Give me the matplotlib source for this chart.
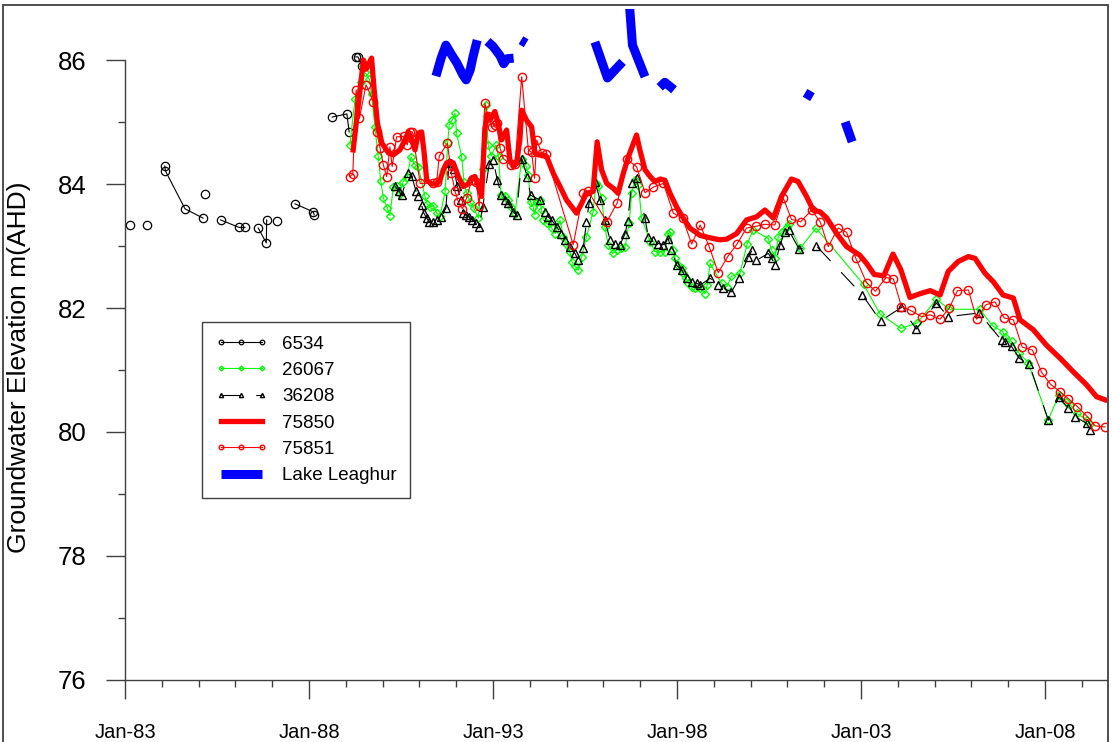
import numpy as np
import matplotlib
matplotlib.use('Agg')
import matplotlib.pyplot as plt
from matplotlib.patches import Rectangle

plt.rcParams['font.family'] = ['Liberation Sans', 'DejaVu Sans']
plt.rcParams['lines.scale_dashes'] = False

nan = np.nan

# bore 6534 (gaps in the record are nan)
yr_6534 = [1983.14, nan, 1983.60, nan, 1984.08, 1984.10, 1984.63, 1985.12, nan, 1985.17, nan,
           1985.60, 1986.10, 1986.26, nan, 1986.62, 1986.84, 1986.85, nan, 1987.13, nan,
           1987.62, 1988.12, 1988.14, nan, 1988.63, 1989.03, 1989.09, nan, 1989.27, 1989.33, 1989.45]
lv_6534 = [83.34, nan, 83.34, nan, 84.29, 84.21, 83.60, 83.45, nan, 83.84, nan,
           83.42, 83.30, 83.30, nan, 83.29, 83.05, 83.42, nan, 83.40, nan,
           83.68, 83.55, 83.50, nan, 85.08, 85.13, 84.84, nan, 86.05, 86.05, 85.90]

# bore 26067
yr_26067 = [1989.11, 1989.25, 1989.40, 1989.46, 1989.52, 1989.64, 1989.70, 1989.79, 1989.88, 1989.95,
            1990.02, 1990.13, 1990.20, 1990.29, 1990.38, 1990.47, 1990.56, 1990.67, 1990.77, 1990.88,
            1990.97, 1991.15, 1991.21, 1991.29, 1991.38, 1991.47, 1991.56, 1991.70, 1991.77, 1991.81,
            1991.89, 1991.97, 1992.01, 1992.15, 1992.21, 1992.28, 1992.38, 1992.48, 1992.60, 1992.72,
            1992.80, 1992.87, 1992.95, 1993.08, 1993.15, 1993.22, 1993.33, 1993.42, 1993.50, 1993.60,
            1993.78, 1993.90, 1993.96, 1994.02, 1994.09, 1994.14, 1994.19, 1994.28, 1994.32, 1994.37,
            1994.46, 1994.60, 1994.69, 1994.82, 1994.91, 1995.00, 1995.09, 1995.14, 1995.23, 1995.32,
            1995.41, 1995.54, 1995.72, 1995.80, 1995.86, 1995.95, 1996.04, 1996.13, 1996.25, 1996.36,
            1996.47, 1996.59, 1996.70, 1996.77, 1996.86, 1996.95, 1997.04, 1997.27, 1997.40, 1997.54,
            1997.67, 1997.76, 1997.81, 1997.90, 1997.95, 1998.04, 1998.13, 1998.17, 1998.25, 1998.31,
            1998.40, 1998.49, 1998.63, 1998.76, 1998.82, 1998.90, 1999.21, 1999.35, 1999.48, 1999.71,
            1999.91, 2000.07, 2000.48, 2000.57, 2000.66, 2000.75, 2000.84, 2000.98, 2001.05, 2001.34,
            2001.78, 2003.07, 2003.52, 2004.09, 2004.53, 2005.05, 2005.40, 2006.23, 2006.58, 2006.85,
            2006.91, 2007.09, 2007.30, 2007.54, 2008.09, 2008.38, 2008.58, 2008.69, 2008.86, 2009.13,
            2009.23]
lv_26067 = [84.63, 85.37, 85.64, 85.90, 85.80, 85.69, 85.45, 84.92, 84.45, 84.05,
            83.77, 83.61, 83.49, 83.95, 83.97, 83.84, 84.04, 84.12, 84.44, 84.31,
            84.28, 83.80, 83.68, 83.63, 83.65, 83.53, 83.48, 83.88, 84.68, 84.95,
            85.03, 85.14, 84.82, 84.44, 84.04, 83.85, 83.71, 83.61, 83.45, 84.25,
            85.27, 84.63, 84.45, 84.63, 84.44, 83.82, 83.80, 83.74, 83.63, 83.52,
            84.41, 84.29, 84.15, 83.71, 83.63, 83.50, 83.71, 83.74, 83.58, 83.42,
            83.37, 83.29, 83.20, 83.42, 83.15, 83.02, 82.91, 82.75, 82.67, 82.61,
            82.83, 83.15, 83.55, 84.01, 83.96, 83.77, 83.31, 83.02, 82.88, 82.94,
            82.96, 82.99, 83.37, 83.85, 84.06, 83.98, 83.45, 83.07, 82.91, 82.91,
            82.91, 83.20, 83.22, 82.94, 82.80, 82.69, 82.64, 82.56, 82.48, 82.40,
            82.34, 82.32, 82.32, 82.23, 82.37, 82.72, 82.40, 82.34, 82.51, 82.56,
            83.04, 83.26, 83.12, 82.94, 82.80, 83.14, 83.22, 83.31, 83.35, 82.96,
            83.29, 82.38, 81.90, 81.67, 81.76, 82.14, 81.98, 81.98, 81.71, 81.62,
            81.54, 81.46, 81.27, 81.12, 80.20, 80.60, 80.49, 80.44, 80.30, 80.20,
            80.13]

# bore 36208
yr_36208 = [1990.34, 1990.45, 1990.52, 1990.70, 1990.79, 1990.91, 1990.97, 1991.06, 1991.12, 1991.20,
            1991.27, 1991.38, 1991.47, 1991.60, 1991.72, 1991.81, 1991.87, 1991.94, 1992.03, 1992.12,
            1992.19, 1992.26, 1992.35, 1992.44, 1992.53, 1992.62, 1992.72, 1992.90, 1993.00, 1993.12,
            1993.23, 1993.33, 1993.42, 1993.55, 1993.64, 1993.78, 1993.93, 1994.02, 1994.28, 1994.41,
            1994.50, 1994.59, 1994.73, 1994.86, 1994.96, 1995.09, 1995.23, 1995.32, 1995.45, 1995.54,
            1995.61, 1995.77, 1995.91, 1996.04, 1996.18, 1996.32, 1996.45, 1996.59, 1996.66, 1996.77,
            1996.90, 1997.13, 1997.22, 1997.36, 1997.49, 1997.63, 1997.76, 1997.85, 1997.99, 1998.13,
            1998.26, 1998.40, 1998.53, 1998.63, 1998.90, 1999.12, 1999.26, 1999.48, 1999.69, 1999.93,
            2000.05, 2000.16, 2000.48, 2000.57, 2000.66, 2000.80, 2000.93, 2001.03, 2001.32, 2001.79,
            2003.04, 2003.53, 2004.10, 2004.50, 2005.05, 2005.37, 2006.21, 2006.82, 2006.90, 2007.09,
            2007.30, 2007.57, 2008.09, 2008.38, 2008.63, 2008.81, 2009.13, 2009.23]
lv_36208 = [83.96, 83.88, 83.82, 84.17, 84.13, 83.88, 83.80, 83.66, 83.53, 83.45,
            83.39, 83.39, 83.42, 83.47, 83.61, 84.36, 84.34, 84.25, 83.96, 83.75,
            83.53, 83.50, 83.47, 83.42, 83.37, 83.30, 83.63, 84.33, 84.39, 84.06,
            83.82, 83.74, 83.69, 83.55, 83.50, 84.41, 84.12, 83.82, 83.74, 83.55,
            83.47, 83.42, 83.31, 83.20, 83.10, 82.99, 82.88, 82.77, 82.96, 83.39,
            83.69, 84.04, 83.74, 83.42, 83.10, 83.04, 83.02, 83.20, 83.40, 84.01,
            84.09, 83.45, 83.15, 83.10, 83.04, 83.02, 83.12, 82.94, 82.69, 82.61,
            82.48, 82.42, 82.40, 82.37, 82.48, 82.37, 82.32, 82.26, 82.48, 82.82,
            82.94, 82.77, 82.88, 82.80, 82.69, 83.02, 83.23, 83.26, 82.95, 83.00,
            82.21, 81.79, 82.01, 81.66, 82.08, 81.86, 81.92, 81.48, 81.45, 81.38,
            81.19, 81.10, 80.19, 80.57, 80.38, 80.25, 80.14, 80.04]

# bore 75850 (logger, line only)
yr_75850 = [1989.20, 1989.48, 1989.55, 1989.70, 1989.77, 1989.86, 1989.98, 1990.16, 1990.29, 1990.47,
            1990.61, 1990.70, 1990.79, 1990.88, 1990.97, 1991.06, 1991.12, 1991.20, 1991.33, 1991.47,
            1991.56, 1991.65, 1991.74, 1991.83, 1991.92, 1992.06, 1992.19, 1992.33, 1992.42, 1992.51,
            1992.60, 1992.69, 1992.78, 1992.85, 1992.92, 1993.05, 1993.14, 1993.23, 1993.37, 1993.46,
            1993.55, 1993.64, 1993.73, 1993.78, 1993.91, 1994.05, 1994.14, 1994.23, 1994.37, 1994.46,
            1994.64, 1994.82, 1995.00, 1995.27, 1995.41, 1995.54, 1995.72, 1995.83, 1995.95, 1996.09,
            1996.27, 1996.40, 1996.54, 1996.68, 1996.90, 1996.99, 1997.13, 1997.27, 1997.40, 1997.55,
            1997.67, 1997.81, 1997.99, 1998.17, 1998.35, 1998.63, 1998.99, 1999.17, 1999.35, 1999.62,
            1999.89, 2000.16, 2000.39, 2000.62, 2000.84, 2001.11, 2001.29, 2001.52, 2001.70, 2001.89,
            2002.07, 2002.34, 2002.61, 2002.97, 2003.15, 2003.36, 2003.62, 2003.87, 2004.08, 2004.33,
            2004.60, 2004.88, 2005.15, 2005.37, 2005.64, 2005.92, 2006.10, 2006.37, 2006.60, 2006.86,
            2007.14, 2007.32, 2007.68, 2008.04, 2008.41, 2008.77, 2009.13, 2009.40, 2009.63]
lv_75850 = [84.55, 86.00, 85.85, 86.03, 85.52, 84.98, 84.66, 84.50, 84.47, 84.55,
            84.71, 84.84, 84.71, 84.55, 84.82, 84.84, 84.55, 84.06, 84.00, 84.00,
            84.06, 84.23, 84.34, 84.36, 84.34, 84.12, 83.96, 84.00, 84.10, 84.12,
            83.96, 83.80, 84.90, 85.12, 85.03, 85.17, 84.98, 84.71, 84.87, 84.39,
            84.28, 84.33, 84.71, 85.19, 85.03, 84.92, 84.50, 84.47, 84.47, 84.44,
            84.17, 83.96, 83.74, 83.53, 83.69, 83.85, 83.88, 84.68, 84.23, 84.01,
            83.93, 83.85, 84.17, 84.44, 84.79, 84.55, 84.23, 84.12, 84.04, 84.08,
            84.06, 83.85, 83.63, 83.45, 83.29, 83.17, 83.12, 83.10, 83.11, 83.20,
            83.42, 83.47, 83.58, 83.45, 83.80, 84.08, 84.04, 83.80, 83.58, 83.55,
            83.45, 83.20, 82.99, 82.85, 82.72, 82.54, 82.52, 82.87, 82.62, 82.17,
            82.23, 82.28, 82.21, 82.59, 82.75, 82.83, 82.80, 82.56, 82.42, 82.21,
            82.16, 81.81, 81.65, 81.40, 81.19, 80.97, 80.76, 80.57, 80.52]

# bore 75851
yr_75851 = [1989.11, 1989.19, 1989.28, 1989.37, 1989.55, 1989.75, 1989.84, 1989.93, 1990.02, 1990.11,
            1990.20, 1990.26, 1990.38, 1990.58, 1990.67, 1990.74, 1990.81, 1991.02, 1991.38, 1991.47,
            1991.54, 1991.76, 1991.87, 1991.97, 1992.06, 1992.17, 1992.28, 1992.42, 1992.55, 1992.62,
            1992.78, 1992.87, 1992.96, 1993.05, 1993.10, 1993.19, 1993.28, 1993.50, 1993.60, 1993.78,
            1993.96, 1994.05, 1994.13, 1994.19, 1994.32, 1994.44, 1995.18, 1995.45, 1995.59, 1996.09,
            1996.38, 1996.63, 1996.90, 1997.13, 1997.36, 1997.63, 1997.90, 1998.15, 1998.40, 1998.63,
            1998.88, 1999.12, 1999.38, 1999.64, 1999.89, 2000.16, 2000.39, 2000.66, 2000.89, 2001.11,
            2001.36, 2001.66, 2001.89, 2002.11, 2002.38, 2002.61, 2002.86, 2003.15, 2003.39, 2003.68,
            2003.88, 2004.10, 2004.35, 2004.65, 2004.88, 2005.15, 2005.40, 2005.62, 2005.92, 2006.14,
            2006.39, 2006.64, 2006.89, 2007.14, 2007.38, 2007.66, 2007.91, 2008.15, 2008.41, 2008.63,
            2008.88, 2009.13, 2009.36, 2009.63]
lv_75851 = [84.12, 84.16, 85.52, 85.06, 85.60, 85.33, 84.84, 84.58, 84.31, 84.12,
            84.60, 84.28, 84.76, 84.77, 84.63, 84.84, 84.84, 84.01, 84.01, 84.04,
            84.45, 84.66, 84.17, 83.88, 83.71, 83.60, 83.77, 84.06, 84.04, 83.65,
            85.30, 85.09, 84.92, 84.95, 84.98, 84.58, 84.41, 84.31, 84.32, 85.73,
            84.55, 84.51, 84.09, 84.71, 84.50, 84.48, 83.02, 83.85, 83.88, 83.39,
            83.70, 84.40, 84.28, 83.86, 83.95, 84.01, 83.53, 83.45, 83.03, 83.34,
            82.98, 82.57, 82.83, 83.04, 83.29, 83.32, 83.35, 83.34, 83.77, 83.43,
            83.39, 83.58, 83.39, 82.99, 83.29, 83.22, 82.80, 82.41, 82.27, 82.49,
            82.47, 82.02, 81.96, 81.86, 81.89, 81.82, 82.00, 82.28, 82.29, 81.82,
            82.05, 82.10, 81.84, 81.81, 81.37, 81.32, 80.96, 80.77, 80.65, 80.54,
            80.41, 80.26, 80.10, 80.08]

# Lake Leaghur level (mostly above the plotted range, gaps = nan)
yr_lake = [1991.45, 1991.59, 1991.72, 1991.86, 1992.02, 1992.18, 1992.27, 1992.38, 1992.46, 1992.57, nan,
           1992.85, 1993.00, 1993.19, 1993.29, 1993.38, 1993.56, nan,
           1993.76, 1993.90, nan,
           1995.77, 1996.11, 1996.52, nan,
           1996.70, 1996.79, 1997.13, nan,
           1997.53, 1997.67, 1997.92, nan,
           2001.48, 2001.68, nan,
           2002.57, 2002.76]
lv_lake = [85.74, 86.03, 86.24, 86.10, 85.95, 85.76, 85.68, 85.84, 86.06, 86.32, nan,
           86.30, 86.22, 86.07, 85.94, 86.02, 86.03, nan,
           86.32, 86.27, nan,
           86.29, 85.71, 85.97, nan,
           86.95, 86.24, 85.73, nan,
           85.56, 85.64, 85.52, nan,
           85.47, 85.40, nan,
           85.00, 84.68]

tick_years = [1983, 1988, 1993, 1998, 2003, 2008]
tick_names = ['Jan-83', 'Jan-88', 'Jan-93', 'Jan-98', 'Jan-03', 'Jan-08']

W, H = 1112, 742
fig = plt.figure(figsize=(W / 100, H / 100), dpi=100)
ax = fig.add_axes([125 / W, 1 - 680 / H, (1107 - 125) / W, (680 - 9) / H])

ax.plot(yr_6534, lv_6534, color='black', lw=0.8, marker='o', ms=6, mfc='none', mew=0.9, label='6534')
ax.plot(yr_26067, lv_26067, color='#00ff00', lw=0.8, marker='D', ms=4.5, mfc='none', mew=1.0, label='26067')
ax.plot(yr_36208, lv_36208, color='black', lw=0.8, ls=(0, (14, 11)), marker='^', ms=5.5, mfc='none',
        mew=1.0, label='36208')
ax.plot(yr_75850, lv_75850, color='#ff0000', lw=3.8, solid_joinstyle='round', label='75850')
ax.plot(yr_75851, lv_75851, color='#ff0000', lw=0.8, marker='o', ms=6, mfc='none', mew=1.0, label='75851')
ax.plot(yr_lake, lv_lake, color='#0000ff', lw=6.5, solid_capstyle='butt', label='Lake Leaghur')

ax.set_xlim(1983.0, 1983 + (1107 - 125) / 36.8)
ax.set_ylim(76, 76 + (680 - 9) / 62)

ax.set_xticks(tick_years)
ax.set_xticklabels(tick_names)
ax.set_xticks(range(1983, 2010), minor=True)
ax.set_yticks([76, 78, 80, 82, 84, 86])
ax.set_yticks([77, 79, 81, 83, 85], minor=True)

for s in ['top', 'right']:
    ax.spines[s].set_visible(False)
ax.spines['left'].set_bounds(76, 86)
for s in ['left', 'bottom']:
    ax.spines[s].set_color('#404040')
    ax.spines[s].set_linewidth(1.0)

ax.tick_params(axis='x', which='major', direction='out', length=13.7, width=1, color='#404040',
               labelsize=14.5, pad=17)
ax.tick_params(axis='x', which='minor', direction='out', length=5, width=1, color='#404040')
ax.tick_params(axis='y', which='major', direction='out', length=13.7, width=1, color='#404040',
               labelsize=18.5, pad=14)
ax.tick_params(axis='y', which='minor', direction='out', length=5, width=1, color='#404040')

fig.text(19.5 / W, 1 - 367 / H, 'Groundwater Elevation m(AHD)', rotation=90,
         ha='center', va='center', fontsize=19)

leg = ax.legend(loc='upper left', bbox_to_anchor=(202 / W, 1 - 322 / H), bbox_transform=fig.transFigure,
                borderaxespad=0, fontsize=13.5, numpoints=3, markerscale=0.55, handlelength=2.76,
                handletextpad=0.8, labelspacing=0.49, borderpad=0.72, fancybox=False, framealpha=1)
leg.get_frame().set_edgecolor('#404040')
leg.get_frame().set_linewidth(1.0)

# outer frame around the whole picture
fig.patches.append(Rectangle((3 / W, -0.1), (1108 - 3) / W, 1 - 5 / H + 0.1, transform=fig.transFigure,
                             fill=False, edgecolor='#404040', lw=1.3, clip_on=False))

fig.savefig('out.png', dpi=100)
